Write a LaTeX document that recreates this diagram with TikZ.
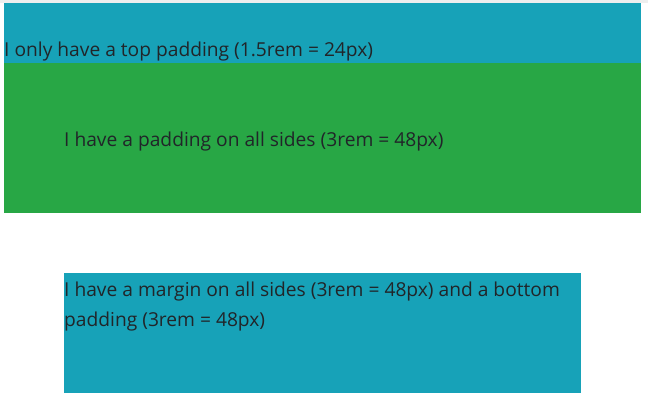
\documentclass[tikz,border=0pt]{standalone}
\usepackage{fontspec}
\setmainfont{Open Sans}
\definecolor{infoblue}{HTML}{17A2B8}
\definecolor{okgreen}{HTML}{28A745}
\definecolor{txt}{HTML}{212529}
\definecolor{topgray}{HTML}{EEEEEE}
\begin{document}
\begin{tikzpicture}[x=1pt,y=-1pt,
  lbl/.style={anchor=base west,inner sep=0pt,text=txt,font=\fontsize{19.2}{30}\selectfont}]
\useasboundingbox (0,0) rectangle (648,403);
\fill[white] (0,0) rectangle (648,403);
\fill[topgray] (0,0) rectangle (648,3);
\fill[infoblue] (4,3) rectangle (641,63);
\fill[okgreen] (4,63) rectangle (641,213);
\fill[infoblue] (64,273) rectangle (581,393);
\node[lbl] (t1) at (4,56.5) {I only have a top padding (1.5rem = 24px)};
\node[lbl] (t2) at (64,146.5) {I have a padding on all sides (3rem = 48px)};
\node[lbl] (t3) at (64,296.5) {I have a margin on all sides (3rem = 48px) and a bottom};
\node[lbl] (t4) at (64,326.5) {padding (3rem = 48px)};
\end{tikzpicture}
\end{document}
